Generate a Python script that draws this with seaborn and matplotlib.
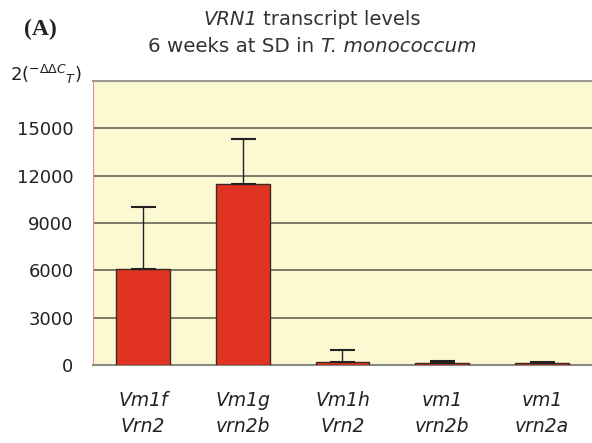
import pandas as pd
import matplotlib
matplotlib.use('Agg')
import matplotlib.pyplot as plt
import seaborn as sns

# values
genotypes = ['Vm1f\nVrn2', 'Vm1g\nvrn2b', 'Vm1h\nVrn2', 'vm1\nvrn2b', 'vm1\nvrn2a']
levels = [6100, 11500, 200, 150, 120]
errors = [3900, 2850, 750, 100, 80]
yticks = [0, 3000, 6000, 9000, 12000, 15000]

df = pd.DataFrame({'genotype': genotypes, 'level': levels, 'err': errors})

sns.set_style('white')
plt.rcParams['font.family'] = ['DejaVu Sans']
plt.rcParams['mathtext.fontset'] = 'dejavusans'

fig = plt.figure(figsize=(5.92, 4.43), dpi=100)
ax = fig.add_axes([0.157, 0.176, 0.843, 0.641])
ax.set_facecolor('#fbf8d2')

sns.barplot(data=df, x='genotype', y='level', color='#e03322', width=0.54,
            edgecolor='#3a2a20', linewidth=1, saturation=1, ax=ax, zorder=3)
ax.errorbar(range(len(df)), df['level'], yerr=[[0] * len(df), df['err']],
            fmt='none', ecolor='#222222', elinewidth=1, capsize=9, capthick=1.5, zorder=4)

ax.set_ylim(0, 18000)
ax.set_xlim(-0.5, len(df) - 0.5)
ax.set_yticks(yticks)
ax.yaxis.grid(True, color='#707060', linewidth=1.3, zorder=1)
ax.set_axisbelow(True)
ax.tick_params(axis='y', length=5, width=1, color='#e07080', labelsize=13, pad=9,
               labelcolor='#222222')
ax.set_xticks([i - 0.5 for i in range(len(df) + 1)], minor=True)
ax.tick_params(axis='x', which='minor', length=7, color='#555555', direction='out')
ax.tick_params(axis='x', which='major', length=0, labelsize=13.5, pad=19,
               labelcolor='#222222')
for lab in ax.get_xticklabels():
    lab.set_fontstyle('italic')
    lab.set_linespacing(1.45)
ax.set_xlabel('')
ax.set_ylabel('')

ax.spines['left'].set_color('#e88a95')
ax.spines['bottom'].set_color('#8a8a80')
ax.spines['bottom'].set_linewidth(1.5)
ax.spines['top'].set_color('#9a9a90')
ax.spines['top'].set_linewidth(1.5)
ax.spines['right'].set_visible(False)

fig.text(0.017, 0.831, r'2($^{-\Delta\Delta C}$$_{T}$)', fontsize=13, va='center', ha='left',
         color='#222222')

# two-line title, italic pieces placed next to the plain ones
t1 = fig.text(203 / 592, 0.955, 'VRN1', fontsize=14, fontstyle='italic',
              ha='left', va='center', color='#333333')
ax.annotate(' transcript levels', xy=(1, 0), xycoords=t1, fontsize=14,
            ha='left', va='bottom', color='#333333', annotation_clip=False)
t2 = fig.text(148 / 592, 0.894, '6 weeks at SD in ', fontsize=14.3,
              ha='left', va='center', color='#333333')
ax.annotate('T. monococcum', xy=(1, 0), xycoords=t2, fontsize=14.3, fontstyle='italic',
            ha='left', va='bottom', color='#333333', annotation_clip=False)

fig.text(0.04, 0.934, '(A)', fontsize=17, fontweight='bold', family='Liberation Serif',
         ha='left', va='center', color='#222222')

plt.savefig('out.png', dpi=100)
